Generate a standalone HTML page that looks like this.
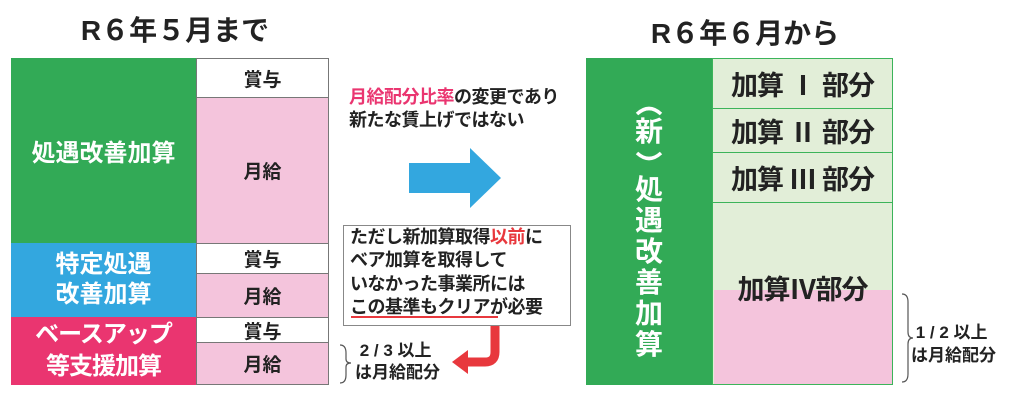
<!DOCTYPE html>
<html><head><meta charset="utf-8"><style>
body{margin:0;width:1024px;height:406px;background:#fff;position:relative;overflow:hidden;font-family:"Liberation Sans","Noto Sans CJK JP",sans-serif;font-weight:bold;color:#222}
div{position:absolute;box-sizing:border-box}
.c{display:flex;align-items:center;justify-content:center;text-align:center}
.cell{border:1.5px solid #777;font-size:19px;color:#222}
.pk{background:#f4c4dc}
.wt{background:#fff}
.gc{background:#e2eed8;border:1.5px solid #3cb45a;font-size:27px;color:#222;letter-spacing:-1px}
.v{left:629px;width:40px;height:32px;color:#fff;font-size:28px;line-height:32px;text-align:center}
</style></head><body>
<div class="c" style="left:50px;top:9px;width:250px;height:40px;font-size:28px">R６年５月まで</div>
<div class="c" style="left:630px;top:12px;width:230px;height:40px;font-size:28px">R６年６月から</div>

<div class="c" style="left:11px;top:58px;width:185px;height:185px;background:#32aa56;color:#fff;font-size:24px">処遇改善加算</div>
<div class="c" style="left:11px;top:243px;width:185px;height:74px;background:#33a7df;color:#fff;font-size:24px;line-height:30px">特定処遇<br>改善加算</div>
<div class="c" style="left:11px;top:317px;width:185px;height:68px;background:#ea3570;color:#fff;font-size:24px;line-height:32px;letter-spacing:-1px">ベースアップ<br>等支援加算</div>

<div class="c cell wt" style="left:196px;top:58px;width:133px;height:40px">賞与</div>
<div class="c cell pk" style="left:196px;top:97px;width:133px;height:147px">月給</div>
<div class="c cell wt" style="left:196px;top:243px;width:133px;height:31px">賞与</div>
<div class="c cell pk" style="left:196px;top:273px;width:133px;height:45px">月給</div>
<div class="c cell wt" style="left:196px;top:317px;width:133px;height:26px">賞与</div>
<div class="c cell pk" style="left:196px;top:342px;width:133px;height:43px">月給</div>

<div style="left:349px;top:86px;font-size:18px;line-height:23px;white-space:nowrap;letter-spacing:-0.5px"><span style="color:#ea3570">月給配分比率</span>の変更であり<br>新たな賃上げではない</div>

<div style="left:343px;top:225px;width:228px;height:101px;border:1px solid #888;background:#fff"></div>
<div style="left:350px;top:226px;font-size:18px;line-height:23.3px;white-space:nowrap;letter-spacing:-0.5px">ただし新加算取得<span style="color:#e8383d">以前</span>に<br>ベア加算を取得して<br>いなかった事業所には<br>この基準もクリアが必要</div>
<div style="left:351px;top:316px;width:147px;height:2px;background:#e8383d"></div>

<div style="left:355px;top:340px;font-size:17px;line-height:22px;white-space:nowrap">&nbsp;2 / 3 以上<br>は月給配分</div>
<div style="left:911px;top:321px;font-size:17px;line-height:23px;white-space:nowrap">&nbsp;1 / 2 以上<br>は月給配分</div>

<div style="left:586px;top:58px;width:127px;height:327px;background:#32aa56"></div>
<div class="v" style="top:116px">新</div>
<div class="v" style="top:174px">処</div>
<div class="v" style="top:205px">遇</div>
<div class="v" style="top:236px">改</div>
<div class="v" style="top:267px">善</div>
<div class="v" style="top:298px">加</div>
<div class="v" style="top:329px">算</div>

<div class="c gc" style="left:712px;top:58px;width:181px;height:51px">加算 Ⅰ 部分</div>
<div class="c gc" style="left:712px;top:108px;width:181px;height:45px">加算 Ⅱ 部分</div>
<div class="c gc" style="left:712px;top:152px;width:181px;height:51px">加算 Ⅲ 部分</div>
<div class="gc" style="left:712px;top:202px;width:181px;height:183px"></div>
<div style="left:713.5px;top:290px;width:178px;height:93.5px;background:#f4c4dc"></div>
<div class="c" style="left:712px;top:270px;width:181px;height:34px;font-size:27px;letter-spacing:-1px">加算Ⅳ部分</div>

<svg style="position:absolute;left:0;top:0" width="1024" height="406">
<polygon points="409,163 470,163 470,148 501,178 470,208 470,193 409,193" fill="#33a7df"/>
<path d="M495,326 V352 Q495,362 485,362 H466" stroke="#e8383d" stroke-width="9" fill="none"/>
<polygon points="468,350 452,362 468,374" fill="#e8383d"/>
<path d="M340,345 q6,0 6,8 v6 q0,4 5,4 q-5,0 -5,4 v8 q0,8 -6,8" stroke="#555" stroke-width="1.2" fill="none"/>
<path d="M902,294 q6,0 6,8 v30 q0,6 5,6 q-5,0 -5,6 v30 q0,8 -6,8" stroke="#555" stroke-width="1.2" fill="none"/>
<path d="M637,114 Q649,103 661,114" stroke="#fff" stroke-width="3.5" fill="none"/>
<path d="M637,153 Q649,164 661,153" stroke="#fff" stroke-width="3.5" fill="none"/>
</svg>
</body></html>
